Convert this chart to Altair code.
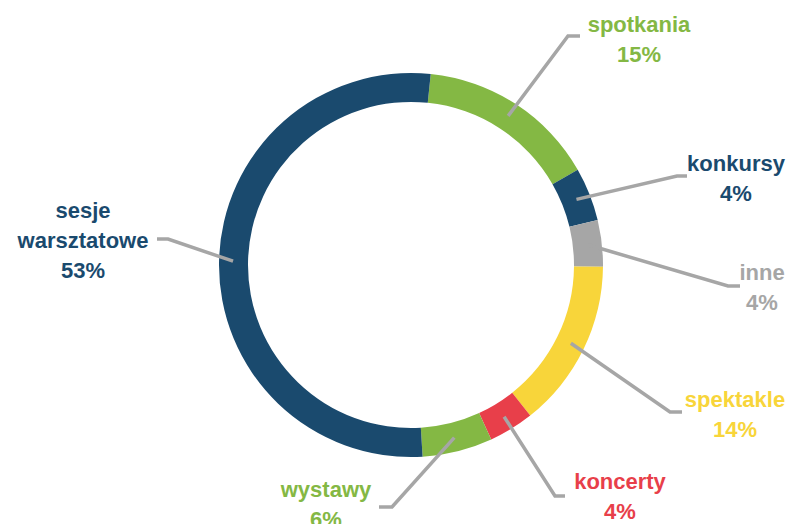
import math
import altair as alt
import pandas as pd

# ---- data ----
categories = ["spotkania", "konkursy", "inne", "spektakle", "koncerty", "wystawy", "sesje warsztatowe"]
values = [15.1, 4.5, 3.9, 14.2, 3.8, 5.9, 52.6]
pct_labels = ["15%", "4%", "4%", "14%", "4%", "6%", "53%"]
name_lines = ["spotkania", "konkursy", "inne", "spektakle", "koncerty", "wystawy", "sesje\nwarsztatowe"]
colors = ["#84B844", "#1A4A6E", "#A6A6A6", "#F8D53A", "#E83F4A", "#84B844", "#1A4A6E"]

# ---- layout (chart pixel coordinates) ----
W, H = 780, 516
CX, CY = 403, 257
R_OUT, R_IN, R_LEAD = 192, 163, 178
START = math.radians(5.9)
# elbow point, end point of leader, label anchor (x, first baseline)
elbows = [(560, 28), (669, 168), (720, 278), (662, 404), (547, 488), (384, 499), (160, 231)]
ends = [(572, 28), (679, 168), (732, 278), (674, 404), (557, 488), (371, 499), (149, 231)]
label_pos = [(631, 24), (728, 163), (754, 272), (727, 399), (612, 481), (318, 489), (75, 210)]

df = pd.DataFrame({"category": categories, "value": values, "idx": list(range(len(categories)))})
df["label"] = [n + "\n" + p for n, p in zip(name_lines, pct_labels)]
df["lx"] = [p[0] for p in label_pos]
df["ly"] = [p[1] for p in label_pos]

total = sum(values)
rows = []
cum = 0.0
for i, (c, v) in enumerate(zip(categories, values)):
    mid = START + 2 * math.pi * (cum + v / 2) / total
    cum += v
    sx = CX + R_LEAD * math.sin(mid)
    sy = CY - R_LEAD * math.cos(mid)
    pts = [(sx, sy), elbows[i], ends[i]]
    for k, (px, py) in enumerate(pts):
        rows.append({"category": c, "k": k, "px": px, "py": py})
lead = pd.DataFrame(rows)

color_scale = alt.Scale(domain=categories, range=colors)

arc = alt.Chart(df).mark_arc(innerRadius=R_IN, outerRadius=R_OUT).encode(
    theta=alt.Theta("value:Q", stack=True, scale=alt.Scale(range=[START, START + 2 * math.pi])),
    color=alt.Color("category:N", scale=color_scale, legend=None),
    order=alt.Order("idx:Q"),
    x=alt.value(CX),
    y=alt.value(CY),
)

lines = alt.Chart(lead).mark_line(color="#A6A6A6", strokeWidth=3.5, strokeCap="butt").encode(
    x=alt.X("px:Q", scale=None, axis=None),
    y=alt.Y("py:Q", scale=None, axis=None),
    detail="category:N",
    order="k:Q",
)

texts = alt.Chart(df).mark_text(
    font="Liberation Sans Narrow, Arial Narrow, Liberation Sans, sans-serif",
    fontWeight="bold",
    fontSize=22,
    lineBreak="\n",
    lineHeight=30,
    align="center",
    baseline="alphabetic",
).encode(
    x=alt.X("lx:Q", scale=None, axis=None),
    y=alt.Y("ly:Q", scale=None, axis=None),
    text="label:N",
    color=alt.Color("category:N", scale=color_scale, legend=None),
)

chart = alt.layer(arc, lines, texts).properties(
    width=W, height=H, padding=0, autosize=alt.AutoSizeParams(type="none")
).configure_view(stroke=None)

chart.save("out.html", embed_options={"renderer": "svg", "actions": False})
